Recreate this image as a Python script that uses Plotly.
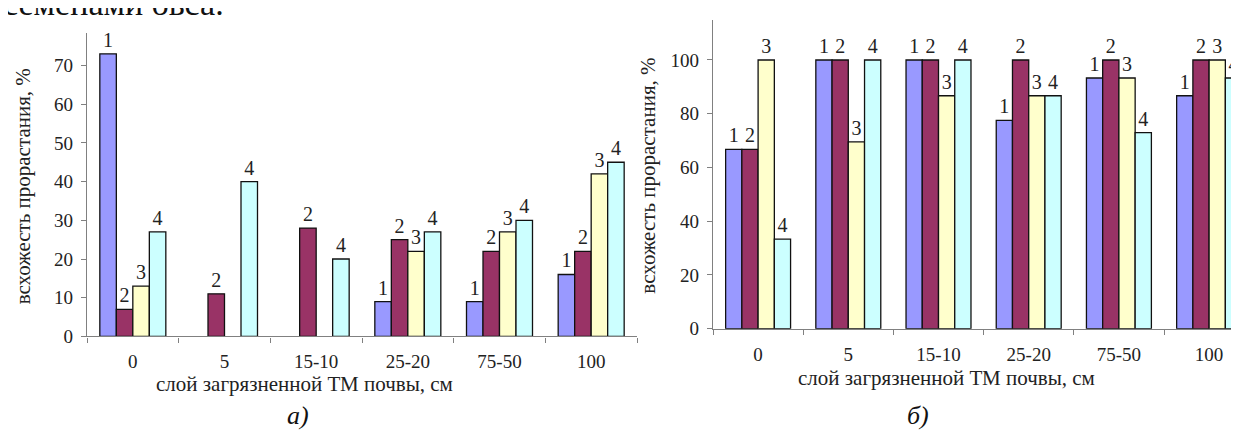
import plotly.graph_objects as go

categories = ["0", "5", "15-10", "25-20", "75-50", "100"]
series_names = ["1", "2", "3", "4"]
colors = ["#9999FF", "#993366", "#FFFFCC", "#CCFFFF"]

# Chart a)
a_s1 = [73, None, None, 9, 9, 16]
a_s2 = [7, 11, 28, 25, 22, 22]
a_s3 = [13, None, None, 22, 27, 42]
a_s4 = [27, 40, 20, 27, 30, 45]

# Chart б)
b_s1 = [66.7, 100, 100, 77.5, 93.3, 86.7]
b_s2 = [66.7, 100, 100, 100, 100, 100]
b_s3 = [100, 69.5, 86.7, 86.7, 93.3, 100]
b_s4 = [33.3, 100, 100, 86.7, 73, 93.3]

a_ticks = [0, 10, 20, 30, 40, 50, 60, 70]
b_ticks = [0, 20, 40, 60, 80, 100]

W, H = 1239, 433
FONT = "Liberation Serif"

def px_x(p):
    return p / W

def px_y(p):
    return 1 - p / H

fig = go.Figure()

for name, vals, col in zip(series_names, [a_s1, a_s2, a_s3, a_s4], colors):
    fig.add_trace(go.Bar(
        x=categories, y=vals, name=name, marker=dict(color=col, line=dict(color="#111", width=1.3)),
        text=[name if v is not None else "" for v in vals], textposition="outside",
        constraintext="none", textfont=dict(family=FONT, size=20, color="#222"), cliponaxis=False,
        xaxis="x", yaxis="y", showlegend=False))

for name, vals, col in zip(series_names, [b_s1, b_s2, b_s3, b_s4], colors):
    fig.add_trace(go.Bar(
        x=categories, y=vals, name=name, marker=dict(color=col, line=dict(color="#111", width=1.3)),
        text=[name for v in vals], textposition="outside",
        constraintext="none", textfont=dict(family=FONT, size=20, color="#222"), cliponaxis=False,
        xaxis="x2", yaxis="y2", showlegend=False))

axis_common = dict(showline=True, linecolor="#808080", linewidth=1.2, ticks="outside",
                   tickcolor="#808080", ticklen=5, showgrid=False, zeroline=False,
                   tickfont=dict(family=FONT, size=19, color="#222"))

fig.update_layout(
    width=W, height=H, margin=dict(l=0, r=0, t=0, b=0),
    paper_bgcolor="white", plot_bgcolor="white",
    barmode="group", bargap=0.28, bargroupgap=0,
    font=dict(family=FONT),
    xaxis=dict(domain=[px_x(79), px_x(629)], anchor="y", range=[-0.5, 5.5],
               tickson="boundaries", ticklabelstandoff=8, **axis_common),
    yaxis=dict(domain=[px_y(337), px_y(26)], anchor="x", range=[0, 78.3],
               tickvals=a_ticks, ticklabelstandoff=4, **axis_common),
    xaxis2=dict(domain=[px_x(705), 1], anchor="y2", range=[-0.5, 5.42],
                tickson="boundaries", ticklabelstandoff=8, **axis_common),
    yaxis2=dict(domain=[px_y(329), px_y(12)], anchor="x2", range=[0, 115],
                tickvals=b_ticks, ticklabelstandoff=4, **axis_common),
)

ann = []
title_font = dict(family=FONT, size=21, color="#222")
ann.append(dict(text="всхожесть прорастания, %", x=px_x(15), y=px_y(183), xref="paper", yref="paper",
                textangle=-90, showarrow=False, font=title_font, xanchor="center", yanchor="middle"))
ann.append(dict(text="всхожесть прорастания, %", x=px_x(640), y=px_y(172), xref="paper", yref="paper",
                textangle=-90, showarrow=False, font=title_font, xanchor="center", yanchor="middle"))
ann.append(dict(text="слой загрязненной ТМ почвы, см", x=px_x(296), y=px_y(386), xref="paper", yref="paper",
                showarrow=False, font=title_font, xanchor="center", yanchor="middle"))
ann.append(dict(text="слой загрязненной ТМ почвы, см", x=px_x(938), y=px_y(380), xref="paper", yref="paper",
                showarrow=False, font=title_font, xanchor="center", yanchor="middle"))
ann.append(dict(text="<i>а)</i>", x=px_x(290), y=px_y(418), xref="paper", yref="paper",
                showarrow=False, font=dict(family=FONT, size=26, color="#111"), xanchor="center", yanchor="middle"))
ann.append(dict(text="<i>б)</i>", x=px_x(910), y=px_y(418), xref="paper", yref="paper",
                showarrow=False, font=dict(family=FONT, size=26, color="#111"), xanchor="center", yanchor="middle"))
ann.append(dict(text="семенами овса.", x=px_x(-7), y=px_y(-5), xref="paper", yref="paper",
                showarrow=False, font=dict(family=FONT, size=34, color="#111"), xanchor="left", yanchor="middle"))
fig.update_layout(annotations=ann)

fig.write_html("out.html")
